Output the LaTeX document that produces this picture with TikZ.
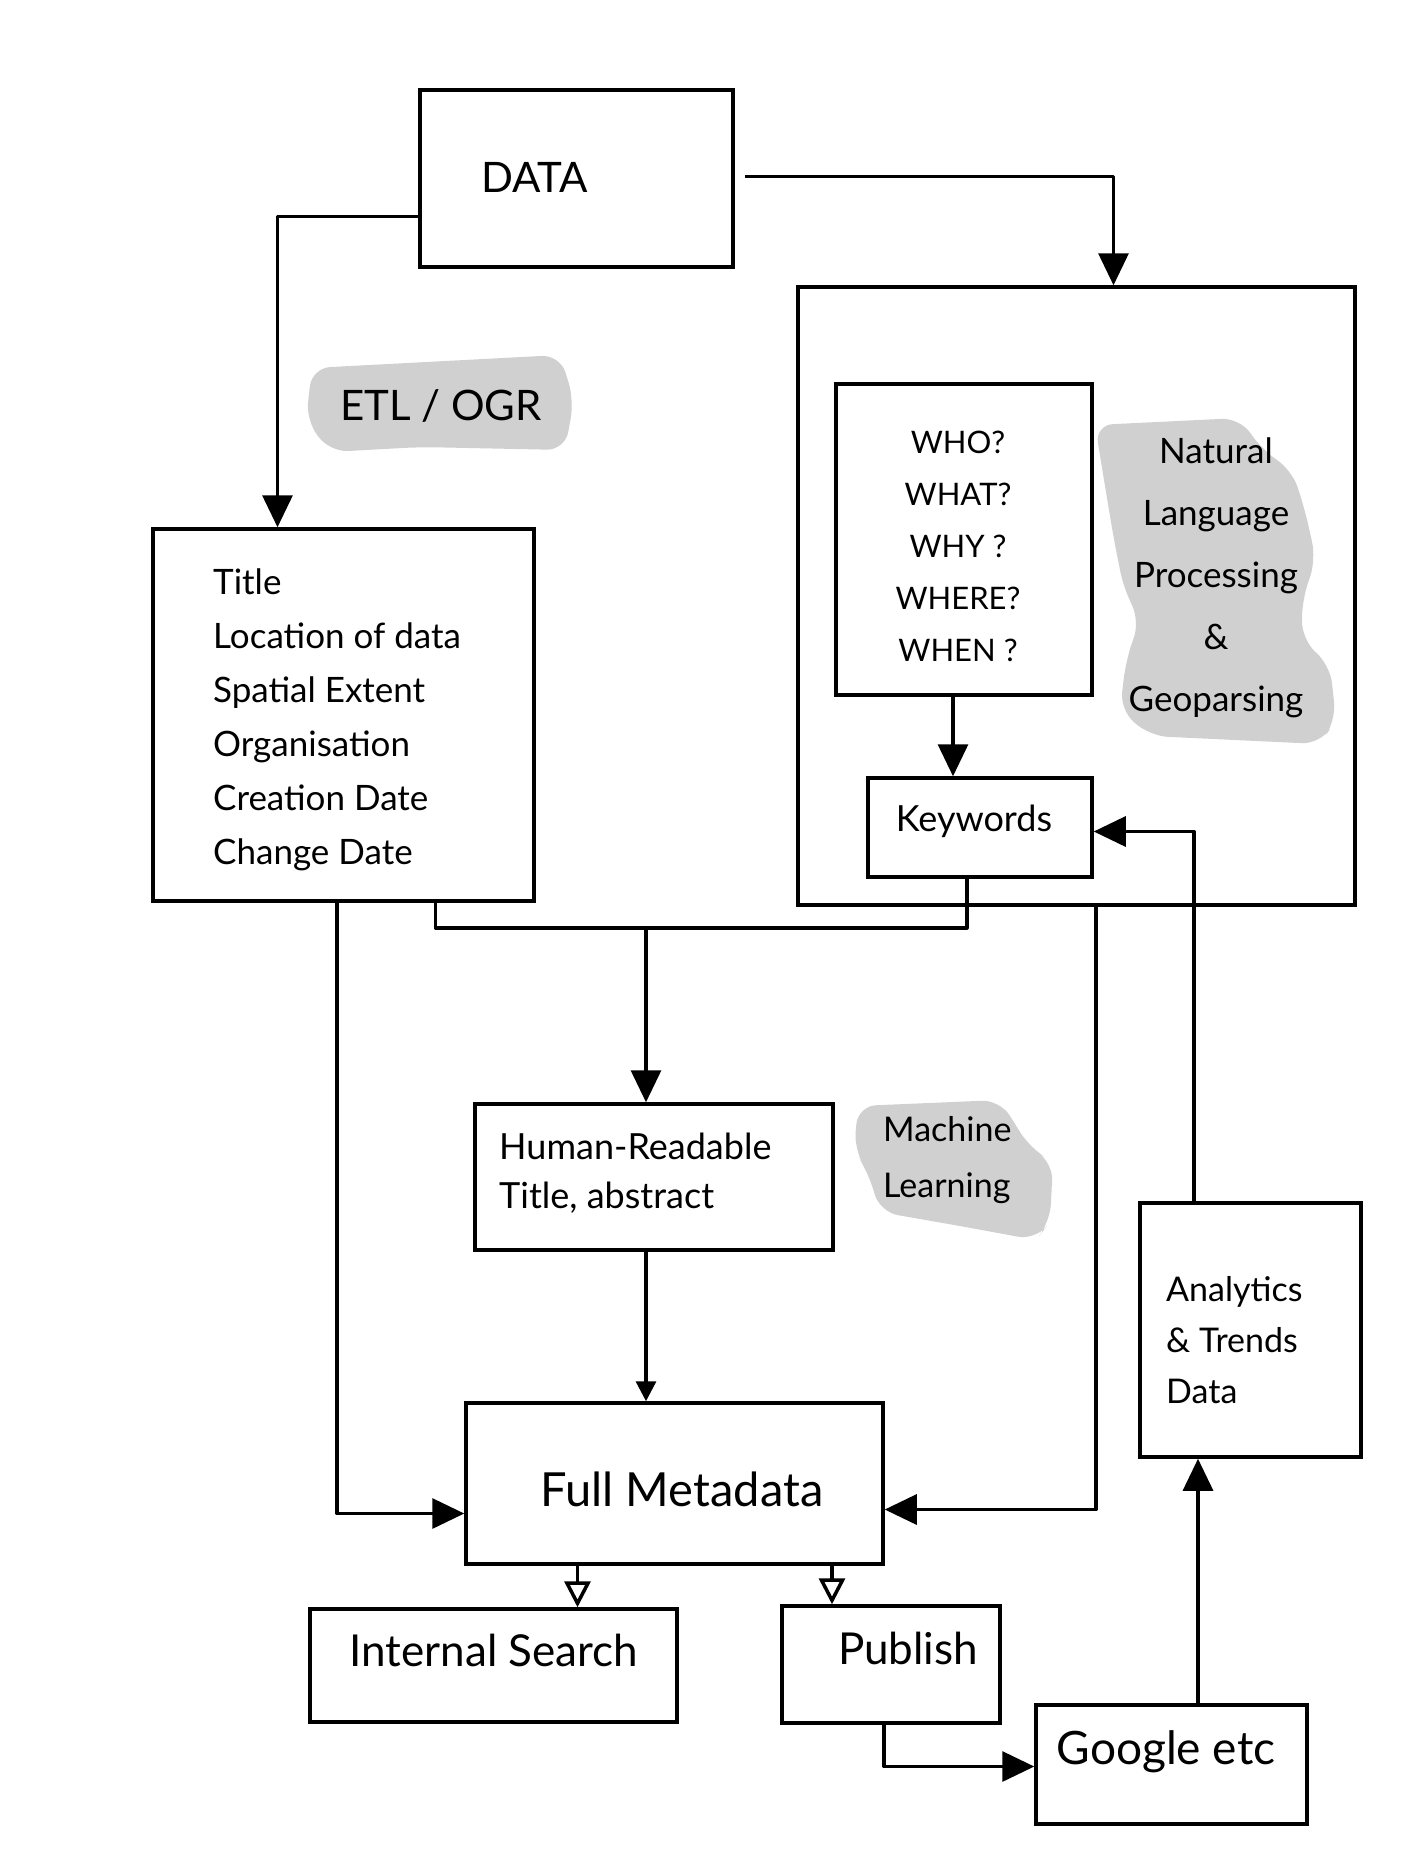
\documentclass[tikz,border=0pt]{standalone}
\usepackage{fontspec}
\setmainfont{Lato}
\usetikzlibrary{arrows.meta}
\definecolor{blob}{HTML}{D0D0D0}
\tikzset{
  box/.style={draw, line width=3.5pt, inner sep=0pt, fill=white},
  line/.style={line width=3.2pt, line join=round},
  arr/.style={line, -{Triangle[length=32pt,width=30pt]}},
  sarr/.style={line, -{Triangle[length=20pt,width=20pt]}},
  oarr/.style={line, -{Triangle[open,length=26pt,width=26pt,line width=3.5pt]}},
  blobfill/.style={fill=blob, rounded corners=18pt},
  txt/.style={inner sep=0pt, font=\fontsize{32}{38}\selectfont},
}
\begin{document}
\begin{tikzpicture}[x=1pt,y=-1pt]
\useasboundingbox[fill=white] (0,0) rectangle (1404,1872);

% gray blobs
\fill[blobfill] (312,368) -- (560,355) -- (574,400) -- (565,450) -- (420,447) -- (330,452) -- (306,420) -- cycle;
\fill[blobfill] (1095,425) -- (1240,418) -- (1262,450) -- (1292,470) -- (1305,510) -- (1316,560) -- (1302,600) -- (1302,640) -- (1330,665) -- (1336,720) -- (1320,744) -- (1150,736) -- (1120,710) -- (1126,660) -- (1140,620) -- (1124,590) -- (1114,540) -- (1104,480) -- cycle;
\fill[blobfill] (858,1106) -- (1000,1100) -- (1030,1148) -- (1053,1162) -- (1050,1222) -- (1036,1240) -- (960,1226) -- (880,1212) -- (868,1172) -- (854,1150) -- cycle;

% boxes
\node[box, minimum width=313pt, minimum height=177pt] (data) at (576.5,178.5) {};
\node[box, fill=none, minimum width=557pt, minimum height=618pt] (nlpc) at (1076.5,596) {};
\node[box, minimum width=256pt, minimum height=311pt] (who) at (964,539.5) {};
\node[box, minimum width=224pt, minimum height=99pt] (kw) at (980,827.5) {};
\node[box, minimum width=381pt, minimum height=372pt] (meta) at (343.5,715) {};
\node[box, minimum width=358pt, minimum height=146pt] (hr) at (654,1177) {};
\node[box, minimum width=417pt, minimum height=161pt] (fm) at (674.5,1483.5) {};
\node[box, minimum width=367pt, minimum height=113pt] (is) at (493.5,1665.5) {};
\node[box, minimum width=218pt, minimum height=117pt] (pub) at (891,1664.5) {};
\node[box, minimum width=271pt, minimum height=119pt] (goo) at (1171.5,1764.5) {};
\node[box, minimum width=221pt, minimum height=254pt] (ana) at (1250.5,1330) {};

% texts
\node[txt, anchor=west, font=\fontsize{42}{46}\selectfont] (tdata) at (481,177) {DATA};
\node[txt, font=\fontsize{42}{46}\selectfont] (tetl) at (441,406) {ETL / OGR};
\node[txt, anchor=west, align=left, font=\fontsize{35}{54}\selectfont] (tmeta) at (213,720) {Title\\Location of data\\Spatial Extent\\Organisation\\Creation Date\\Change Date};
\node[txt, align=center, font=\fontsize{31}{52}\selectfont] (twho) at (958,546) {WHO?\\WHAT?\\WHY ?\\WHERE?\\WHEN ?};
\node[txt, align=center, font=\fontsize{35}{62}\selectfont] (tnlp) at (1216,578) {Natural\\Language\\Processing\\\&\\Geoparsing};
\node[txt, font=\fontsize{36}{40}\selectfont] (tkw) at (974,821) {Keywords};
\node[txt, anchor=west, align=left, font=\fontsize{36}{49}\selectfont] (thr) at (499,1173) {Human-Readable\\Title, abstract};
\node[txt, anchor=west, align=left, font=\fontsize{34}{56}\selectfont] (tml) at (883,1160) {Machine\\Learning};
\node[txt, font=\fontsize{47}{52}\selectfont] (tfm) at (682,1489) {Full Metadata};
\node[txt, font=\fontsize{44}{50}\selectfont] (tis) at (494,1650) {Internal Search};
\node[txt, font=\fontsize{44}{50}\selectfont] (tpub) at (908,1648) {Publish};
\node[txt, font=\fontsize{46}{52}\selectfont] (tgoo) at (1166,1752) {Google etc};
\node[txt, anchor=west, align=left, font=\fontsize{34}{51}\selectfont] (tana) at (1166,1340) {Analytics\\\& Trends\\Data};

% connectors
\draw[arr] ([xshift=10pt,yshift=2pt]data.east) -| ([xshift=37pt]nlpc.north);
\draw[arr] ([yshift=-38pt]data.west) -| ([xshift=-66pt]meta.north);
\draw[arr] ([xshift=-11pt]who.south) -- ([xshift=-11pt]who.south |- kw.north);
\coordinate (jn) at (646,928);
\draw[line] ([xshift=92pt]meta.south) |- (jn) -| ([xshift=-13pt]kw.south);
\draw[arr] (jn) -- (jn |- hr.north);
\draw[sarr] ([xshift=-8pt]hr.south) -- ([xshift=-8pt]hr.south |- fm.north);
\draw[arr] ([xshift=-6.5pt]meta.south) |- ([yshift=-30pt]fm.west);
\draw[arr] ([xshift=19.5pt]nlpc.south) |- ([yshift=-26pt]fm.east);
\draw[oarr] ([xshift=84pt]is.north |- fm.south) -- ([xshift=84pt]is.north);
\draw[oarr] ([xshift=-59pt]pub.north |- fm.south) -- ([xshift=-59pt]pub.north);
\draw[arr] ([xshift=-7pt]pub.south) |- ([yshift=-2pt]goo.west);
\draw[arr] ([xshift=26.5pt]goo.north) -- ([xshift=26.5pt]goo.north |- ana.south);
\draw[arr] ([xshift=-56.5pt]ana.north) |- ([yshift=-4pt]kw.east);
\end{tikzpicture}
\end{document}
